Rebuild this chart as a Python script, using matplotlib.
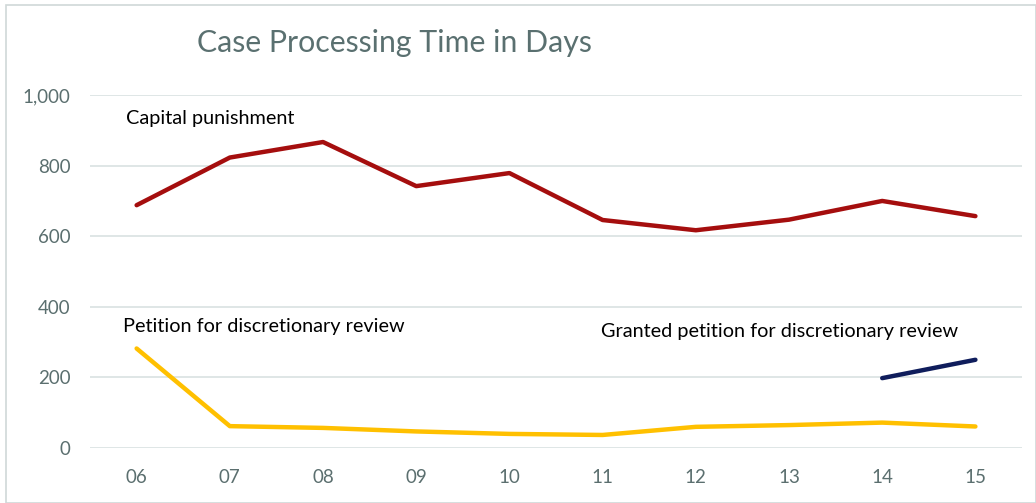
import matplotlib
matplotlib.use('Agg')
import matplotlib.pyplot as plt
from matplotlib.patches import Rectangle

plt.rcParams['font.family'] = ['Lato', 'DejaVu Sans']

years = ["06", "07", "08", "09", "10", "11", "12", "13", "14", "15"]
capital = [688, 823, 867, 742, 779, 646, 617, 647, 700, 657]
petition = [282, 62, 57, 47, 40, 37, 60, 65, 72, 61]
granted_years = ["14", "15"]
granted = [198, 250]

TICK_C = "#5B6F6F"
GRID_C = "#D9E2E2"

fig = plt.figure(figsize=(10.36, 5.03), dpi=100)
fig.patches.append(Rectangle((0.006, 0.0), 0.994, 0.99, transform=fig.transFigure,
                             fill=False, edgecolor="#D0D8D8", lw=1.2))
ax = fig.add_axes([0.0869, 0.1093, 0.8996, 0.7017])

x = list(range(len(years)))
gx = [years.index(y) for y in granted_years]
ax.plot(x, capital, color="#A50E0E", lw=3.2, solid_capstyle="round", solid_joinstyle="round")
ax.plot(x, petition, color="#FFC000", lw=3.2, solid_capstyle="round", solid_joinstyle="round")
ax.plot(gx, granted, color="#0F1D5C", lw=3.2, solid_capstyle="round")

ax.set_xlim(-0.5, len(years) - 0.5)
ax.set_ylim(0, 1000)
ax.set_yticks([0, 200, 400, 600, 800, 1000])
ax.set_yticklabels(["0", "200", "400", "600", "800", "1,000"])
ax.set_xticks(x)
ax.set_xticklabels(years)
ax.tick_params(length=0, labelsize=13.5, colors=TICK_C)
ax.tick_params(axis="y", pad=14)
ax.tick_params(axis="x", pad=15)
ax.grid(axis="y", color=GRID_C, lw=1.2)
ax.set_axisbelow(True)
for s in ax.spines.values():
    s.set_visible(False)

ax.text(-0.11, 935, "Capital punishment", fontsize=14.3, va="center", color="black")
ax.text(-0.15, 343, "Petition for discretionary review", fontsize=14.3, va="center", color="black")
ax.text(4.98, 331, "Granted petition for discretionary review", fontsize=14.3, va="center", color="black")

fig.text(0.19, 0.915, "Case Processing Time in Days", fontsize=21.8, color="#5A7070", va="center")

fig.savefig("out.png", dpi=100)
